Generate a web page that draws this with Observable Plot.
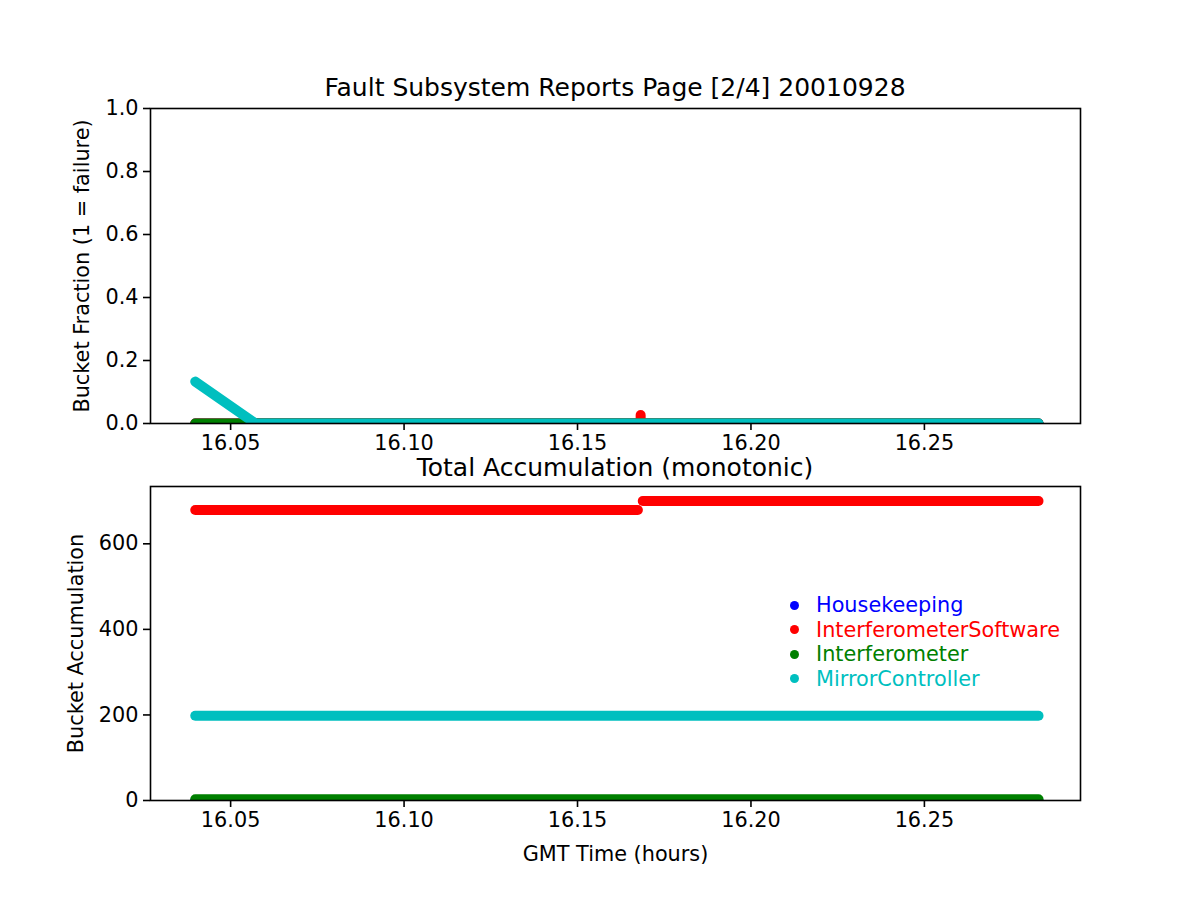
<!DOCTYPE html>
<html>
<head>
<meta charset="utf-8">
<script src="https://cdn.jsdelivr.net/npm/d3@7"></script>
<script src="https://cdn.jsdelivr.net/npm/@observablehq/plot@0.6"></script>
<style>
  html, body { margin: 0; padding: 0; background: white; }
  #fig { position: relative; width: 1200px; height: 900px; background: white; font-family: "DejaVu Sans", sans-serif; color: black; }
  #fig svg { position: absolute; left: 0; }
  .title { position: absolute; left: 150px; width: 930px; text-align: center; font-size: 25px; line-height: 25px; white-space: nowrap; }
  #legend { position: absolute; left: 786px; top: 593px; font-size: 20.8px; line-height: 24.5px; }
  #legend .row { display: flex; align-items: center; white-space: nowrap; }
  #legend .dot { width: 9px; height: 9px; border-radius: 50%; margin-right: 17px; margin-left: 4px; }
</style>
</head>
<body>
<div id="fig"></div>
<script>
// ---- data ----
const seriesNames = ["Housekeeping", "InterferometerSoftware", "Interferometer", "MirrorController"];
const seriesColors = ["#0000ff", "#ff0000", "#008000", "#00bfbf"];

const xTicks = [16.05, 16.10, 16.15, 16.20, 16.25];
const xDomain = [16.0269, 16.2950];

// Top panel: bucket fraction (breakpoints of each series; seg = run of samples)
const hkFracT = [16.0398, 16.2829];
const hkFracV = [0, 0];
const hkFracS = [0, 0];
const swFracT = [16.0398, 16.2829, 16.1682, 16.1682];
const swFracV = [0, 0, 0, 0.027];
const swFracS = [0, 0, 1, 1];
const ifFracT = [16.0398, 16.2829];
const ifFracV = [0, 0];
const ifFracS = [0, 0];
const mcFracT = [16.0398, 16.0572, 16.2829];
const mcFracV = [0.133, 0, 0];
const mcFracS = [0, 0, 0];
const fracTicks = [0, 0.2, 0.4, 0.6, 0.8, 1.0];

// Bottom panel: bucket accumulation
const hkAccT = [16.0398, 16.2829];
const hkAccV = [0, 0];
const hkAccS = [0, 0];
const swAccT = [16.0398, 16.1674, 16.1688, 16.2829];
const swAccV = [679, 679, 700, 700];
const swAccS = [0, 0, 1, 1];
const ifAccT = [16.0398, 16.2829];
const ifAccV = [3, 3];
const ifAccS = [0, 0];
const mcAccT = [16.0398, 16.2829];
const mcAccV = [198, 198];
const mcAccS = [0, 0];
const accTicks = [0, 200, 400, 600];
const accDomain = [0, 734];

// ---- build tables ----
const zip = (t, v, s) => t.map((d, i) => ({t: d, v: v[i], s: s[i]}));
const fracData = [zip(hkFracT, hkFracV, hkFracS), zip(swFracT, swFracV, swFracS), zip(ifFracT, ifFracV, ifFracS), zip(mcFracT, mcFracV, mcFracS)];
const accData = [zip(hkAccT, hkAccV, hkAccS), zip(swAccT, swAccV, swAccS), zip(ifAccT, ifAccV, ifAccS), zip(mcAccT, mcAccV, mcAccS)];

const styleBase = {fontFamily: "DejaVu Sans, sans-serif", fontSize: "20.8px", color: "black", background: "transparent", overflow: "visible"};

function seriesMarks(data) {
  return data.map((rows, i) => Plot.line(rows, {
    x: "t", y: "v", z: "s", stroke: seriesColors[i], strokeWidth: 10,
    strokeLinecap: "round", strokeLinejoin: "round", clip: true
  }));
}

function axes(yTicks, yFormat, yLabel, yLabelOffset, xLabel) {
  return [
    Plot.axisX({ticks: xTicks, tickFormat: d3.format(".2f"), tickSize: 7, tickPadding: 5, strokeWidth: 1.6,
      label: xLabel, labelAnchor: "center", labelArrow: "none", labelOffset: 60}),
    Plot.axisY({ticks: yTicks, tickFormat: yFormat, tickSize: 7, tickPadding: 5, strokeWidth: 1.6,
      label: yLabel, labelAnchor: "center", labelArrow: "none", labelOffset: yLabelOffset}),
    Plot.frame({stroke: "black", strokeWidth: 1.6})
  ];
}

const topChart = Plot.plot({
  width: 1200, height: 450,
  marginLeft: 150, marginRight: 120, marginTop: 108, marginBottom: 27,
  style: styleBase,
  x: {domain: xDomain},
  y: {domain: [0, 1]},
  marks: [...seriesMarks(fracData), ...axes(fracTicks, d3.format(".1f"), "Bucket Fraction (1 = failure)", 76, null)]
});
topChart.style.top = "0px";

const bottomChart = Plot.plot({
  width: 1200, height: 450,
  marginLeft: 150, marginRight: 120, marginTop: 36, marginBottom: 100,
  style: styleBase,
  x: {domain: xDomain},
  y: {domain: accDomain},
  marks: [...seriesMarks(accData), ...axes(accTicks, d3.format("d"), "Bucket Accumulation", 82, "GMT Time (hours)")]
});
bottomChart.style.top = "450px";

const fig = document.getElementById("fig");
fig.appendChild(topChart);
fig.appendChild(bottomChart);

const t1 = document.createElement("div");
t1.className = "title"; t1.style.top = "75px";
t1.textContent = "Fault Subsystem Reports Page [2/4] 20010928";
fig.appendChild(t1);
const t2 = document.createElement("div");
t2.className = "title"; t2.style.top = "455px";
t2.textContent = "Total Accumulation (monotonic)";
fig.appendChild(t2);

const legend = document.createElement("div");
legend.id = "legend";
seriesNames.forEach((name, i) => {
  const row = document.createElement("div");
  row.className = "row";
  const dot = document.createElement("span");
  dot.className = "dot"; dot.style.background = seriesColors[i];
  const lab = document.createElement("span");
  lab.textContent = name; lab.style.color = seriesColors[i];
  row.appendChild(dot); row.appendChild(lab);
  legend.appendChild(row);
});
fig.appendChild(legend);
</script>
</body>
</html>
